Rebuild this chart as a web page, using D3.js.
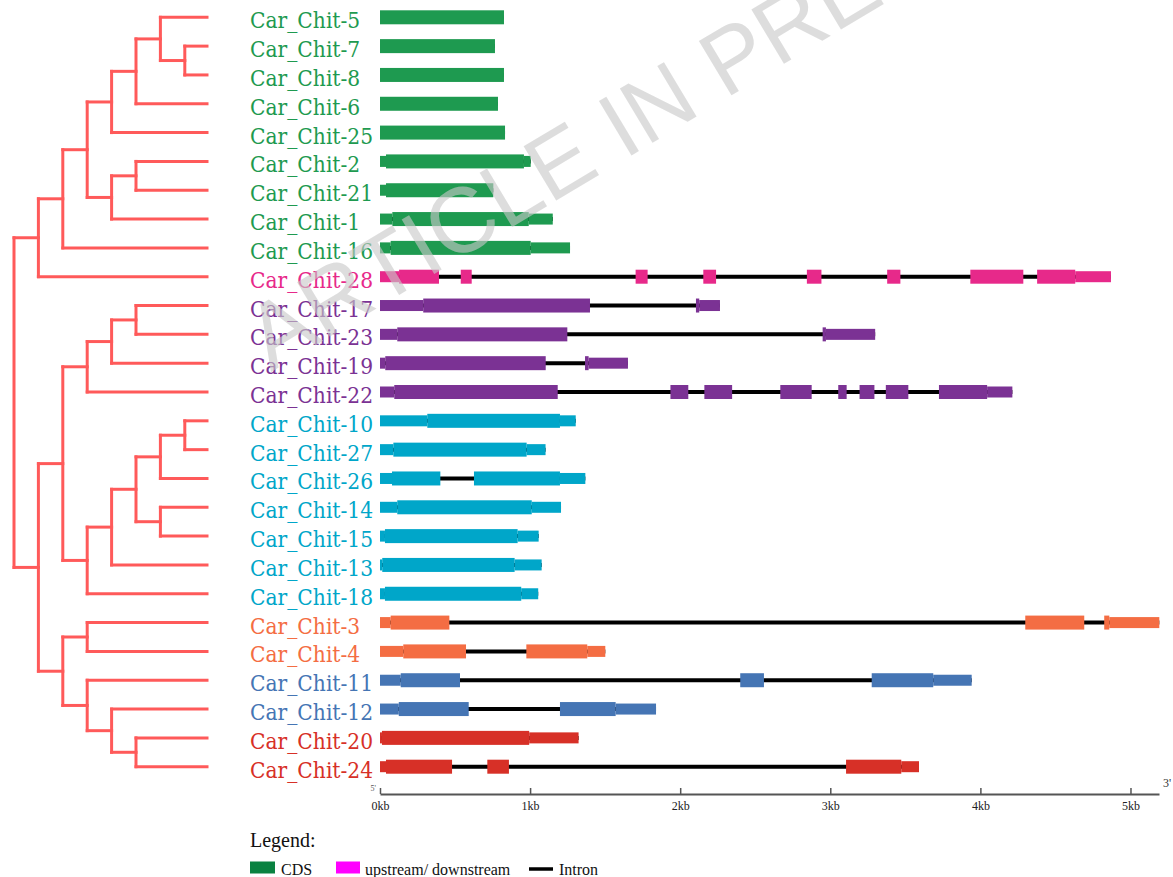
<!DOCTYPE html>
<html><head><meta charset="utf-8">
<script src="https://cdn.jsdelivr.net/npm/d3@7"></script>
<style>body{margin:0;background:#fff;} svg{display:block;}</style>
</head><body>
<svg id="chart" width="1173" height="877"></svg>
<script>
// ---------------- data ----------------
const treeNewick = "(((((((5,(7,8)),6),25),((2,21),1)),16),28),(((((17,23),19),22),(((((10,27),26),(14,15)),13),18)),((3,4),(11,(12,(20,24))))))";

const geneNames = ["Car_Chit-5","Car_Chit-7","Car_Chit-8","Car_Chit-6","Car_Chit-25","Car_Chit-2","Car_Chit-21","Car_Chit-1","Car_Chit-16","Car_Chit-28","Car_Chit-17","Car_Chit-23","Car_Chit-19","Car_Chit-22","Car_Chit-10","Car_Chit-27","Car_Chit-26","Car_Chit-14","Car_Chit-15","Car_Chit-13","Car_Chit-18","Car_Chit-3","Car_Chit-4","Car_Chit-11","Car_Chit-12","Car_Chit-20","Car_Chit-24"];
const geneGroup = [0,0,0,0,0,0,0,0,0,1,2,2,2,2,3,3,3,3,3,3,3,4,4,5,5,6,6];
const groupColors = ["#1e9a50","#e7298a","#7b3294","#00a6c9","#f46d43","#4575b4","#d73027"];

const cdsSegments = [
  [[0,826]],
  [[0,766]],
  [[0,826]],
  [[0,786]],
  [[0,833]],
  [[40,959]],
  [[40,755]],
  [[82,991]],
  [[71,1004]],
  [[127,393],[538,611],[1703,1783],[2154,2239],[2844,2941],[3379,3467],[3933,4286],[4378,4632]],
  [[288,1399],[2105,2127]],
  [[115,1248],[2949,2971]],
  [[35,1104],[1366,1390]],
  [[95,1184],[1935,2054],[2161,2346],[2667,2876],[3053,3109],[3195,3294],[3370,3520],[3724,4045]],
  [[315,1199]],
  [[89,977]],
  [[80,402],[626,1199]],
  [[115,1011]],
  [[33,917]],
  [[15,897]],
  [[33,941]],
  [[71,462],[4299,4692],[4825,4859]],
  [[155,573],[975,1381]],
  [[138,533],[2400,2558],[3276,3686]],
  [[125,591],[1199,1570]],
  [[13,994]],
  [[40,480],[715,859],[3105,3473]]
];
const utrSegments = [
  [],[],[],[],[],
  [[0,40],[959,1004]],
  [[0,40]],
  [[0,82],[991,1151]],
  [[0,71],[1004,1266]],
  [[0,127],[4632,4870]],
  [[0,288],[2127,2265]],
  [[0,115],[2971,3299]],
  [[0,35],[1390,1652]],
  [[0,95],[4045,4213]],
  [[0,315],[1199,1304]],
  [[0,89],[977,1103]],
  [[0,80],[1199,1368]],
  [[0,115],[1011,1206]],
  [[0,33],[917,1057]],
  [[0,15],[897,1077]],
  [[0,33],[941,1054]],
  [[0,71],[4859,5192]],
  [[0,155],[1381,1501]],
  [[0,138],[3686,3942]],
  [[0,125],[1570,1839]],
  [[0,13],[994,1323]],
  [[0,40],[3473,3591]]
];
const axisTicks = [0,1000,2000,3000,4000,5000];
const axisMaxBp = 5190;
const legendLabels = ["CDS","upstream/ downstream","Intron"];
const legendColors = ["#0a8241","#ff00ff","#000000"];
const watermarkText = "ARTICLE IN PRESS";

// ---------------- drawing ----------------
const svg = d3.select("#chart");

const y = d3.scalePoint().domain(geneNames).range([17.3, 766.7]);
const x = d3.scaleLinear().domain([0, axisMaxBp]).range([380, 1159]);
const treeX = d3.scaleLinear().domain([0, 1]).range([14, 38.4]);
const leafX = 207;

// parse newick
function parseNewick(s){
  let i = 0;
  function node(){
    if (s[i] === "("){
      i++;
      const children = [];
      while (true){
        children.push(node());
        if (s[i] === ","){ i++; continue; }
        if (s[i] === ")"){ i++; break; }
        break;
      }
      return {children};
    } else {
      let name = "";
      while (i < s.length && !",()".includes(s[i])) name += s[i++];
      return {name: "Car_Chit-" + name};
    }
  }
  return node();
}
const root = d3.hierarchy(parseNewick(treeNewick));
root.eachAfter(n => {
  if (!n.children){ n.py = y(n.data.name); n.px = leafX; }
  else {
    n.py = (n.children[0].py + n.children[n.children.length-1].py) / 2;
    n.px = treeX(n.depth);
  }
});

const treeG = svg.append("g")
  .attr("fill","none").attr("stroke","#ff5a5a").attr("stroke-width",3)
  .attr("stroke-linecap","square");
root.descendants().filter(n => n.children).forEach(n => {
  const c0 = n.children[0], c1 = n.children[n.children.length-1];
  treeG.append("path").attr("d", `M${n.px},${c0.py}V${c1.py}`);
  n.children.forEach(c => {
    treeG.append("path").attr("d", `M${n.px},${c.py}H${c.px}`);
  });
});

// labels
svg.append("g").selectAll("text").data(geneNames).join("text")
  .attr("x", 250).attr("y", d => y(d) + 11)
  .attr("font-family","'DejaVu Serif Condensed','DejaVu Serif',serif")
  .attr("font-stretch","condensed")
  .attr("font-size", 22.5)
  .attr("fill", (d,i) => groupColors[geneGroup[i]])
  .text(d => d);

// gene structures
const geneG = svg.append("g");
geneNames.forEach((name, i) => {
  const cy = y(name);
  const col = groupColors[geneGroup[i]];
  const all = cdsSegments[i].concat(utrSegments[i]);
  const lo = d3.min(all, s => s[0]), hi = d3.max(all, s => s[1]);
  const g = geneG.append("g");
  g.append("line").attr("x1", x(lo)).attr("x2", x(hi)).attr("y1", cy).attr("y2", cy)
    .attr("stroke","#000").attr("stroke-width",4);
  g.selectAll("rect.utr").data(utrSegments[i]).join("rect").attr("class","utr")
    .attr("x", s => x(s[0])).attr("width", s => x(s[1]) - x(s[0]))
    .attr("y", cy - 5.5).attr("height", 11).attr("fill", col);
  g.selectAll("rect.cds").data(cdsSegments[i]).join("rect").attr("class","cds")
    .attr("x", s => x(s[0])).attr("width", s => x(s[1]) - x(s[0]))
    .attr("y", cy - 7).attr("height", 14).attr("fill", col);
});

// axis
const axis = d3.axisBottom(x).tickValues(axisTicks)
  .tickFormat(d => (d/1000) + "kb").tickSizeInner(-6).tickSizeOuter(0).tickPadding(7);
const axG = svg.append("g").attr("transform","translate(0,794)").call(axis);
axG.select(".domain").attr("stroke","#555").attr("stroke-width",2);
axG.selectAll(".tick line").attr("stroke","#555").attr("stroke-width",1.5);
axG.selectAll(".tick text").attr("font-family","'Liberation Serif',serif").attr("font-size",12).attr("fill","#222");
svg.append("text").attr("x", 1163).attr("y", 787).attr("font-family","'Liberation Serif',serif")
  .attr("font-size", 12).attr("fill","#333").text("3'");
svg.append("text").attr("x", 376).attr("y", 791).attr("text-anchor","end").attr("font-family","'Liberation Serif',serif")
  .attr("font-size", 8).attr("fill","#555").text("5'");

// legend
const legG = svg.append("g").attr("font-family","'Liberation Serif',serif");
legG.append("text").attr("x",250).attr("y",846.5).attr("font-size",20).attr("fill","#111").text("Legend:");
const legX = [250, 336, 529];
const legTX = [281, 365, 559];
legendLabels.forEach((lab, i) => {
  if (i < 2) {
    legG.append("rect").attr("x", legX[i]).attr("y", 861.5).attr("width", i===0?25:24).attr("height", 12)
      .attr("fill", legendColors[i]);
  } else {
    legG.append("line").attr("x1", legX[i]).attr("x2", legX[i]+24).attr("y1", 869).attr("y2", 869)
      .attr("stroke", legendColors[i]).attr("stroke-width", 3.5);
  }
  legG.append("text").attr("x", legTX[i]).attr("y", 875).attr("font-size", 16).attr("fill","#111").text(lab);
});

// watermark, semi-transparent on top of the chart as in the reference
svg.append("text")
  .attr("transform","translate(615,128) rotate(-31)")
  .attr("text-anchor","middle").attr("dominant-baseline","central")
  .attr("font-family","'Liberation Sans',Arial,sans-serif").attr("font-size",92)
  .attr("fill","#c8c8c8").attr("fill-opacity",0.62)
  .text(watermarkText);
</script>
</body></html>
